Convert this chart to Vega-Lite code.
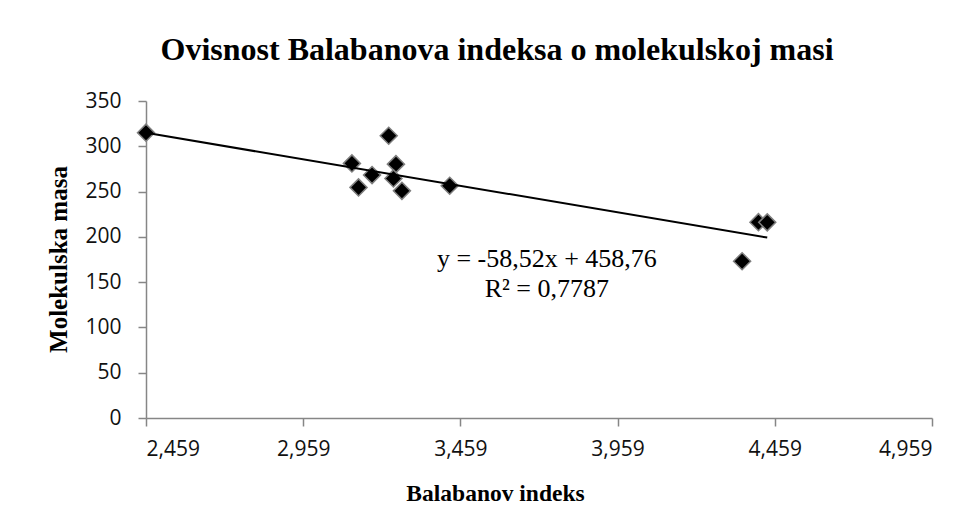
{
  "$schema": "https://vega.github.io/schema/vega-lite/v6.json",
  "autosize": {"type": "none"},
  "width": 786,
  "height": 317,
  "padding": {"left": 146, "top": 101, "right": 46, "bottom": 112},
  "background": "white",
  "title": {
    "text": "Ovisnost Balabanova indeksa o molekulskoj masi",
    "font": "Liberation Serif",
    "fontSize": 32,
    "fontWeight": "bold",
    "color": "black",
    "anchor": "middle",
    "baseline": "alphabetic",
    "offset": 39,
    "dx": -42,
    "dy": 41
  },
  "datasets": {
    "points": [
      {"indeks": 2.459, "masa": 315.0},
      {"indeks": 3.114, "masa": 281.1},
      {"indeks": 3.135, "masa": 254.6},
      {"indeks": 3.178, "masa": 268.2},
      {"indeks": 3.231, "masa": 311.6},
      {"indeks": 3.254, "masa": 280.3},
      {"indeks": 3.246, "masa": 264.5},
      {"indeks": 3.273, "masa": 250.8},
      {"indeks": 3.425, "masa": 256.4},
      {"indeks": 4.355, "masa": 173.1},
      {"indeks": 4.407, "masa": 216.2},
      {"indeks": 4.435, "masa": 216.0}
    ],
    "trend": [
      {"indeks": 2.459, "masa": 314.86},
      {"indeks": 4.435, "masa": 199.22}
    ],
    "equation": [
      {"indeks": 3.734, "masa": 166.5, "label": "y = -58,52x + 458,76"},
      {"indeks": 3.734, "masa": 133.4, "label": "R² = 0,7787"}
    ]
  },
  "encoding": {
    "x": {
      "field": "indeks",
      "type": "quantitative",
      "scale": {"domain": [2.459, 4.959], "nice": false, "zero": false},
      "axis": {
        "title": "Balabanov indeks",
        "values": [2.459, 2.959, 3.459, 3.959, 4.459, 4.959],
        "labelExpr": "replace(format(datum.value, '.3f'), '.', ',')",
        "titleX": 349,
        "titleY": 82,
        "titleFontSize": 23.5,
        "titleAlign": "center",
        "titleBaseline": "alphabetic"
      }
    },
    "y": {
      "field": "masa",
      "type": "quantitative",
      "scale": {"domain": [0, 350], "nice": false},
      "axis": {
        "title": "Molekulska masa",
        "values": [0, 50, 100, 150, 200, 250, 300, 350],
        "titleX": -80,
        "titleY": 158,
        "titleAngle": 270,
        "titleAlign": "center",
        "titleBaseline": "alphabetic",
        "labelPadding": 17
      }
    }
  },
  "layer": [
    {
      "data": {"name": "points"},
      "mark": {"type": "point", "shape": "diamond", "filled": true, "fill": "black", "stroke": "#7f7f7f", "strokeWidth": 1.5, "size": 290, "opacity": 1}
    },
    {
      "data": {"name": "trend"},
      "mark": {"type": "line", "color": "black", "strokeWidth": 2}
    },
    {
      "data": {"name": "equation"},
      "mark": {"type": "text", "font": "Liberation Serif", "fontSize": 26, "color": "black", "align": "center", "baseline": "alphabetic"},
      "encoding": {"text": {"field": "label"}}
    }
  ],
  "config": {
    "view": {"stroke": null},
    "axis": {
      "grid": false,
      "domainColor": "#868686",
      "domainWidth": 1.5,
      "tickColor": "#868686",
      "tickWidth": 1.5,
      "tickSize": 8,
      "labelFont": "Open Sans",
      "labelFontSize": 21,
      "labelColor": "#111",
      "titleFont": "Liberation Serif",
      "titleFontSize": 25,
      "titleFontWeight": "bold",
      "titleColor": "black"
    },
    "axisX": {"labelPadding": 12}
  }
}
